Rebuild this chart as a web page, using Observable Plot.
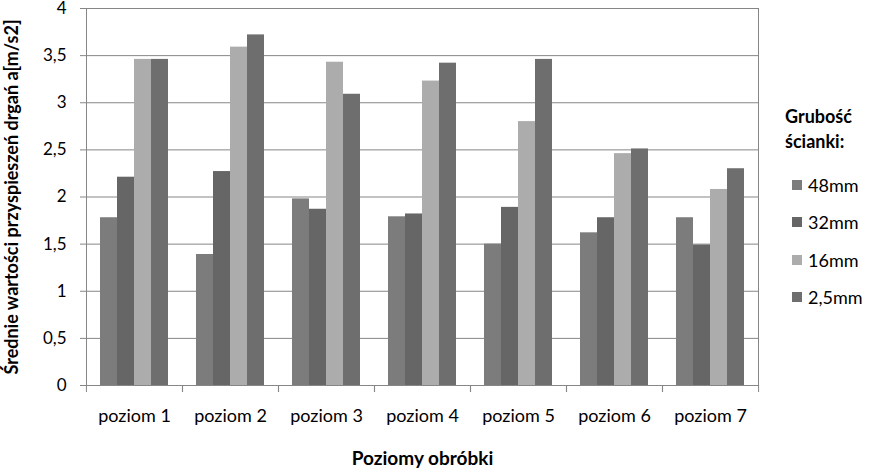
<!DOCTYPE html>
<html>
<head>
<meta charset="utf-8">
<script src="https://cdn.jsdelivr.net/npm/d3@7"></script>
<script src="https://cdn.jsdelivr.net/npm/@observablehq/plot@0.6"></script>
<style>
  html, body { margin: 0; padding: 0; background: #fff; }
  #wrap { position: relative; width: 871px; height: 469px; font-family: Lato, "Liberation Sans", sans-serif; }
  #chart svg { display: block; }
  #legend { position: absolute; left: 760px; top: 104px; width: 111px; color: #000; }
  #legend .lt { font-weight: bold; font-size: 18px; line-height: 25px; text-align: left; padding-left: 25px; }
  #legend .items { margin-top: 12px; }
  #legend .it { height: 37.5px; display: flex; align-items: center; font-size: 18px; }
  #legend .sw { width: 10px; height: 10px; margin-left: 32px; margin-right: 6px; }
  g[aria-label="y-axis label"] text { font-weight: bold; font-size: 18px; }
  g[aria-label="fx-axis label"] text { font-weight: bold; font-size: 19px; }
</style>
</head>
<body>
<div id="wrap">
  <div id="chart"></div>
  <div id="legend"></div>
</div>
<script>
const categories = ["poziom 1", "poziom 2", "poziom 3", "poziom 4", "poziom 5", "poziom 6", "poziom 7"];
const series = ["48mm", "32mm", "16mm", "2,5mm"];
const v48 = [1.78, 1.39, 1.98, 1.79, 1.50, 1.62, 1.78];
const v32 = [2.21, 2.27, 1.87, 1.82, 1.89, 1.78, 1.49];
const v16 = [3.46, 3.59, 3.43, 3.23, 2.80, 2.46, 2.08];
const v25 = [3.46, 3.72, 3.09, 3.42, 3.46, 2.51, 2.30];
const colors = ["#7c7c7c", "#666666", "#acacac", "#6e6e6e"];
const yTicks = [0, 0.5, 1, 1.5, 2, 2.5, 3, 3.5, 4];
const yLabel = "Średnie wartości przyspieszeń drgań a[m/s2]";
const xLabel = "Poziomy obróbki";
const legendTitle = ["Grubość", "ścianki:"];

const seriesValues = [v48, v32, v16, v25];
const data = categories.flatMap((c, i) => series.map((s, j) => ({cat: c, series: s, value: seriesValues[j][i]})));

const W = 771, ML = 85, MR = 13;
const step = (W - ML - MR) / categories.length;
const gray = "#868686";

const chart = Plot.plot({
  width: W,
  height: 469,
  marginLeft: ML,
  marginRight: MR,
  marginTop: 8,
  marginBottom: 84,
  style: {fontFamily: "Lato, 'Liberation Sans', sans-serif", fontSize: "17px", color: "#000", background: "#fff"},
  fx: {domain: categories, padding: 0, label: null},
  x: {domain: series, paddingInner: 0, paddingOuter: 0.75, axis: null},
  y: {domain: [0, 4]},
  color: {domain: series, range: colors},
  marks: [
    Plot.gridY(yTicks, {stroke: gray, strokeOpacity: 1}),
    Plot.barY(data, {fx: "cat", x: "series", y: "value", fill: "series"}),
    Plot.frame({stroke: gray, facet: "super"}),
    Plot.axisY(yTicks, {
      tickSize: 6, tickPadding: 14, stroke: gray, fontSize: 17,
      tickFormat: d => String(d).replace(".", ","),
      label: yLabel, labelAnchor: "center", labelOffset: 81, labelArrow: "none"
    }),
    Plot.axisFx({anchor: "bottom", tickSize: 0, tickPadding: 24, fontSize: 18,
      label: xLabel, labelAnchor: "center", labelOffset: 79, labelArrow: "none"}),
    Plot.axisFx({anchor: "bottom", tickSize: 7, stroke: gray, fill: "none", dx: -step / 2, label: null}),
    Plot.axisFx([categories[categories.length - 1]], {anchor: "bottom", tickSize: 7, stroke: gray, fill: "none", dx: step / 2, label: null})
  ]
});
document.getElementById("chart").appendChild(chart);

const lg = document.getElementById("legend");
const t = document.createElement("div");
t.className = "lt";
t.innerHTML = legendTitle.join("<br>");
lg.appendChild(t);
const items = document.createElement("div");
items.className = "items";
series.forEach((s, i) => {
  const it = document.createElement("div");
  it.className = "it";
  const sw = document.createElement("span");
  sw.className = "sw";
  sw.style.background = colors[i];
  const tx = document.createElement("span");
  tx.textContent = s;
  it.appendChild(sw);
  it.appendChild(tx);
  items.appendChild(it);
});
lg.appendChild(items);
</script>
</body>
</html>
